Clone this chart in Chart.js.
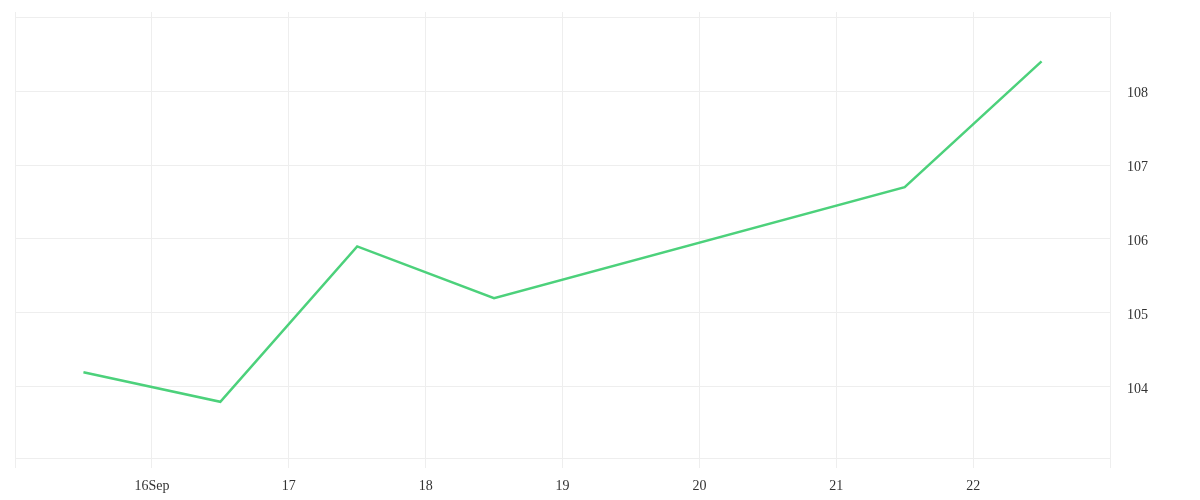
<!DOCTYPE html>
<html>
<head>
<meta charset="utf-8">
<script src="https://cdn.jsdelivr.net/npm/chart.js@4"></script>
<style>
  html, body { margin: 0; padding: 0; background: #ffffff; }
  #wrap { width: 1200px; height: 500px; }
</style>
</head>
<body>
<div id="wrap"><canvas id="myChart" width="1200" height="500"></canvas></div>
<script>
// datos (dia de septiembre, mediodia = .5)
var dias = [15.5, 16.5, 17.5, 18.5, 21.5, 22.5];
var valores = [104.2, 103.8, 105.9, 105.2, 106.7, 108.4];
var diasEje = [15, 16, 17, 18, 19, 20, 21, 22, 23];
var valoresEje = [104, 105, 106, 107, 108, 109];

var puntos = [];
for (var i in dias) {
    puntos.push({ x: dias[i], y: valores[i] });
}

var fuente = { family: "'Liberation Serif', serif", size: 14 };

var grafica = new Chart(document.getElementById('myChart'), {
    type: 'line',
    data: {
        datasets: [{
            data: puntos,
            borderColor: '#4cd17b',
            borderWidth: 2.5,
            pointRadius: 0,
            tension: 0,
            fill: false
        }]
    },
    options: {
        responsive: false,
        animation: false,
        layout: { padding: { left: 15, top: 0, right: 0, bottom: 0 } },
        plugins: { legend: { display: false }, tooltip: { enabled: false } },
        scales: {
            x: {
                type: 'linear',
                min: 15,
                max: 23,
                afterBuildTicks: function (scale) {
                    scale.ticks = diasEje.map(function (v) { return { value: v }; });
                },
                afterFit: function (scale) { scale.height = 42; },
                grid: { color: '#eeeeee', lineWidth: 1, tickLength: 10, drawTicks: true },
                border: { display: false },
                ticks: {
                    autoSkip: false,
                    maxRotation: 0,
                    padding: 10,
                    color: '#333333',
                    font: fuente,
                    callback: function (v) {
                        if (v == 15 || v == 23) return '';
                        if (v == 16) return '16Sep';
                        return String(v);
                    }
                }
            },
            y: {
                position: 'right',
                min: 103.04,
                max: 109.068,
                afterBuildTicks: function (scale) {
                    scale.ticks = valoresEje.map(function (v) { return { value: v }; });
                },
                afterFit: function (scale) { scale.width = 90; scale.paddingTop = 12; },
                grid: { color: '#eeeeee', lineWidth: 1, tickLength: 0, drawTicks: false },
                border: { display: true, color: '#eeeeee' },
                ticks: {
                    padding: 17,
                    labelOffset: 2,
                    color: '#333333',
                    font: fuente,
                    callback: function (v) {
                        if (v == 109) return '';
                        return String(v);
                    }
                }
            }
        }
    },
    plugins: [{
        // linea inferior del area de la grafica
        id: 'bordeInferior',
        afterDraw: function (chart) {
            var a = chart.chartArea, ctx = chart.ctx;
            ctx.save();
            ctx.strokeStyle = '#eeeeee';
            ctx.lineWidth = 1;
            ctx.beginPath();
            ctx.moveTo(a.left, a.bottom + 0.5);
            ctx.lineTo(a.right, a.bottom + 0.5);
            ctx.stroke();
            ctx.restore();
        }
    }]
});
</script>
</body>
</html>
